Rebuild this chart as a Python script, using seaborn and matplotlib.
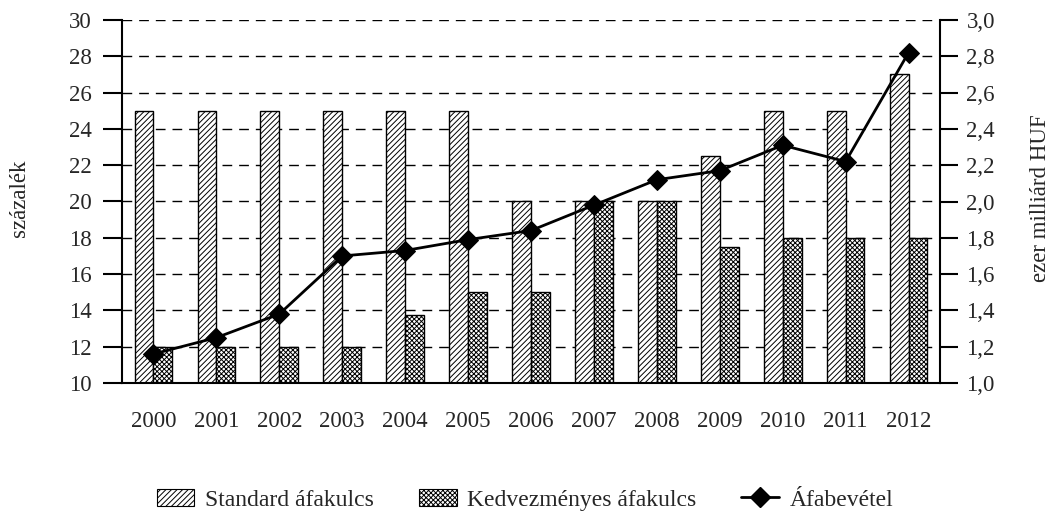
import matplotlib
matplotlib.use("Agg")
import matplotlib.pyplot as plt
import seaborn as sns
import numpy as np
import pandas as pd
from matplotlib.ticker import FuncFormatter
from matplotlib.patches import Patch
from matplotlib.lines import Line2D

years = ['2000', '2001', '2002', '2003', '2004', '2005', '2006',
         '2007', '2008', '2009', '2010', '2011', '2012']
standard = [25, 25, 25, 25, 25, 25, 20, 20, 20, 22.5, 25, 25, 27]
reduced = [12, 12, 12, 12, 13.75, 15, 15, 20, 20, 17.5, 18, 18, 18]
revenue = [1.16, 1.25, 1.38, 1.70, 1.73, 1.79, 1.84, 1.98, 2.12, 2.17, 2.31, 2.22, 2.82]

series_names = ['Standard áfakulcs', 'Kedvezményes áfakulcs']
line_name = 'Áfabevétel'

sns.set_style('white')
plt.rcParams['font.family'] = ['Liberation Serif', 'DejaVu Serif']
plt.rcParams['hatch.linewidth'] = 0.7
plt.rcParams['hatch.color'] = 'black'

df = pd.DataFrame({
    'year': years * 2,
    'value': standard + reduced,
    'kind': [series_names[0]] * len(years) + [series_names[1]] * len(years),
})

fs = 16.5
fig = plt.figure(figsize=(10.51, 5.16), dpi=100)
ax = fig.add_axes([122 / 1051, 1 - 383 / 516, (940 - 122) / 1051, (383 - 20) / 516])

sns.barplot(data=df, x='year', y='value', hue='kind', order=years,
            hue_order=series_names, width=0.6, ax=ax, legend=False)

hatches = ['//////', 'xxxxxxx']
for cont, h in zip(ax.containers, hatches):
    for bar in cont:
        bar.set_facecolor('white')
        bar.set_edgecolor('black')
        bar.set_linewidth(1.0)
        bar.set_hatch(h)

ax.set_ylim(10, 30)
ax.set_yticks(range(10, 31, 2))
ax.set_xlim(-0.5, len(years) - 0.5)
ax.set_xlabel('')
ax.set_ylabel('')
ax.set_axisbelow(True)
ax.yaxis.grid(True, linestyle=(0, (7, 5)), color='black', linewidth=1.0)

ax.set_xticks(np.arange(-0.5, len(years), 1.0), minor=True)
ax.tick_params(axis='x', which='major', length=0, labelsize=fs, pad=20)
ax.tick_params(axis='x', which='minor', length=15, width=1.5, color='black', direction='out')
ax.tick_params(axis='y', length=14, width=1.5, color='black', direction='out', labelsize=fs, left=True, pad=8)

ax2 = ax.twinx()
sns.lineplot(x=np.arange(len(years)), y=revenue, ax=ax2, color='black',
             linewidth=2, marker='D', markersize=10, markeredgecolor='black')
ax2.set_ylim(1.0, 3.0)
ax2.set_yticks(np.arange(1.0, 3.01, 0.2))
ax2.yaxis.set_major_formatter(FuncFormatter(lambda v, p: f'{v:.1f}'.replace('.', ',')))
ax2.tick_params(axis='y', length=13, width=1.5, color='black', direction='out', labelsize=fs, right=True, pad=6)
ax2.set_ylabel('')

for a in (ax, ax2):
    a.spines['top'].set_visible(False)
    for s in ('left', 'right', 'bottom'):
        a.spines[s].set_color('black')
        a.spines[s].set_linewidth(1.5)
ax.spines['right'].set_visible(False)
ax2.spines['left'].set_visible(False)
ax2.spines['bottom'].set_visible(False)

fig.text(19 / 1051, 1 - 198 / 516, 'százalék', rotation=90, fontsize=fs,
         ha='center', va='center')
fig.text(1040 / 1051, 1 - 198 / 516, 'ezer milliárd HUF', rotation=90, fontsize=fs,
         ha='center', va='center')

handles = [
    Patch(facecolor='white', edgecolor='black', hatch='//////', linewidth=0.8),
    Patch(facecolor='white', edgecolor='black', hatch='xxxxxxx', linewidth=0.8),
    Line2D([0], [0], color='black', linewidth=2, marker='D', markersize=10),
]
fig.legend(handles, series_names + [line_name], loc='center',
           bbox_to_anchor=(525 / 1051, 1 - 500 / 516), ncol=3, frameon=False,
           fontsize=17, columnspacing=1.9, handlelength=1.6, handletextpad=0.45,
           borderpad=0)

fig.savefig('out.png', dpi=100)
